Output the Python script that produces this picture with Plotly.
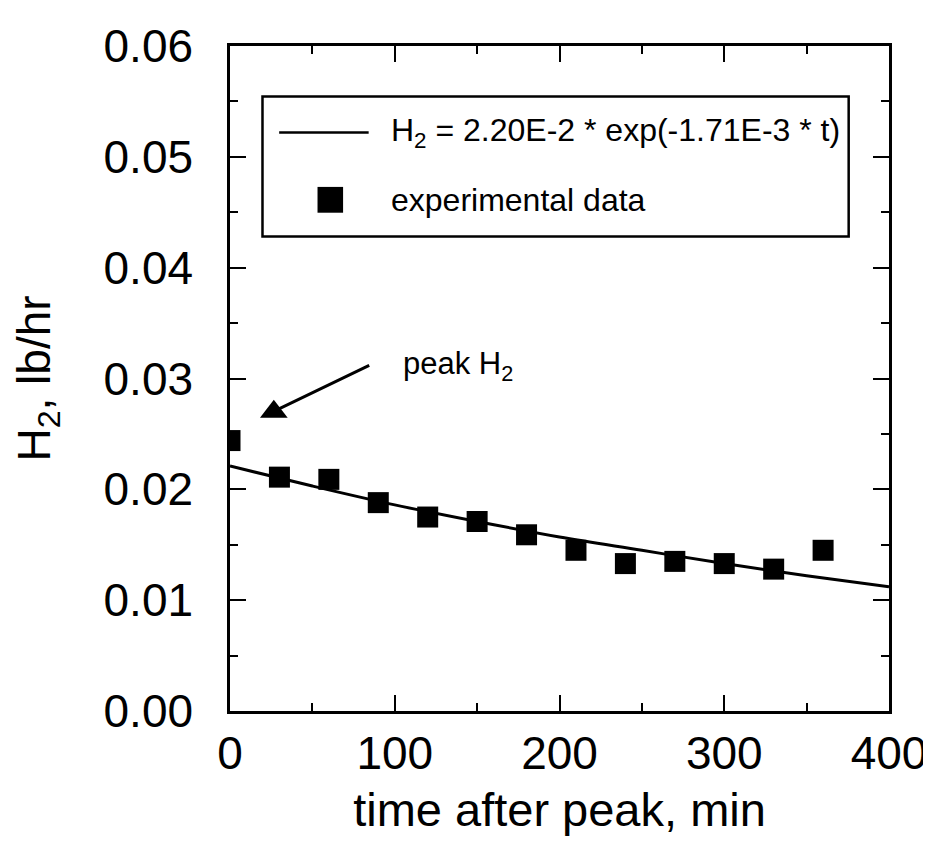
import plotly.graph_objects as go

# experimental data
t_exp = [0, 30, 60, 90, 120, 150, 180, 210, 240, 270, 300, 330, 360]
h2_exp = [0.0244, 0.0211, 0.0209, 0.0188, 0.0175, 0.0171, 0.0159, 0.0145, 0.0133, 0.0135, 0.0133, 0.0128, 0.0145]

# fitted curve
t_fit = [0, 50, 100, 150, 200, 250, 300, 350, 400]
h2_fit = [0.0221, 0.0203, 0.0186, 0.0171, 0.0157, 0.0145, 0.0133, 0.0122, 0.0112]

# peak marker
t_peak = [26.6]
h2_peak = [0.0270]

FONT = "Liberation Sans, Arial, Helvetica, sans-serif"

fig = go.Figure()
fig.add_trace(go.Scatter(x=t_fit, y=h2_fit, mode="lines", line=dict(color="black", width=3, shape="spline"),
                         showlegend=False, hoverinfo="skip"))
fig.add_trace(go.Scatter(x=t_exp, y=h2_exp, mode="markers",
                         marker=dict(symbol="square", size=21, color="black"), showlegend=False))
fig.add_trace(go.Scatter(x=t_peak, y=h2_peak, mode="markers",
                         marker=dict(symbol="triangle-up", size=24, color="black"), showlegend=False))

axis_common = dict(showline=True, linecolor="black", linewidth=2.5, mirror="allticks",
                   ticks="inside", ticklen=16, tickwidth=2, tickcolor="black",
                   showgrid=False, zeroline=False,
                   tickfont=dict(family=FONT, size=46, color="black"))

fig.update_xaxes(range=[0, 400], dtick=100, tick0=0,
                 minor=dict(ticks="inside", ticklen=8, tickwidth=2, tickcolor="black", dtick=50, showgrid=False),
                 title=dict(text="time after peak, min", font=dict(family=FONT, size=47, color="black"), standoff=16),
                 ticklabelstandoff=0,
                 **axis_common)
fig.update_yaxes(range=[0, 0.06], dtick=0.01, tick0=0, tickformat=".2f",
                 minor=dict(ticks="inside", ticklen=8, tickwidth=2, tickcolor="black", dtick=0.005, showgrid=False),
                 title=dict(text="H<sub>2</sub>, lb/hr", font=dict(family=FONT, size=46, color="black"), standoff=48),
                 ticklabelstandoff=25,
                 **axis_common)

# legend box drawn manually (paper coordinates of the plot area)
shapes = [
    dict(type="rect", xref="paper", yref="paper", x0=0.0493, x1=0.9388, y0=0.7134, y1=0.9239,
         line=dict(color="black", width=2.5), fillcolor="white", layer="below"),
    dict(type="line", xref="paper", yref="paper", x0=0.0746, x1=0.2104, y0=0.870, y1=0.870,
         line=dict(color="black", width=2.5)),
    dict(type="rect", xref="paper", yref="paper", x0=0.1522 - 0.0194, x1=0.1522 + 0.0194,
         y0=0.7687 - 0.0194, y1=0.7687 + 0.0194, line=dict(color="black", width=0), fillcolor="black"),
]

annotations = [
    dict(xref="paper", yref="paper", x=0.2418, y=0.870, xanchor="left", yanchor="top", yshift=22,
         text="H<sub>2</sub> = 2.20E-2 * exp(-1.71E-3 * t)", showarrow=False,
         font=dict(family=FONT, size=32, color="black")),
    dict(xref="paper", yref="paper", x=0.2418, y=0.7687, xanchor="left", yanchor="middle",
         text="experimental data", showarrow=False,
         font=dict(family=FONT, size=32, color="black")),
    dict(xref="paper", yref="paper", x=0.259, y=0.5194, xanchor="left", yanchor="top", yshift=22,
         text="peak H<sub>2</sub>", showarrow=False,
         font=dict(family=FONT, size=31, color="black")),
    dict(x=27.5, y=0.0271, ax=85.4, ay=0.03125, xref="x", yref="y", axref="x", ayref="y",
         text="", showarrow=True, arrowhead=0, arrowwidth=3, arrowcolor="black"),
]

fig.update_layout(width=931, height=843, margin=dict(l=222, r=39, t=33, b=140),
                  plot_bgcolor="white", paper_bgcolor="white",
                  shapes=shapes, annotations=annotations,
                  font=dict(family=FONT, color="black"))

fig.write_html("out.html")
